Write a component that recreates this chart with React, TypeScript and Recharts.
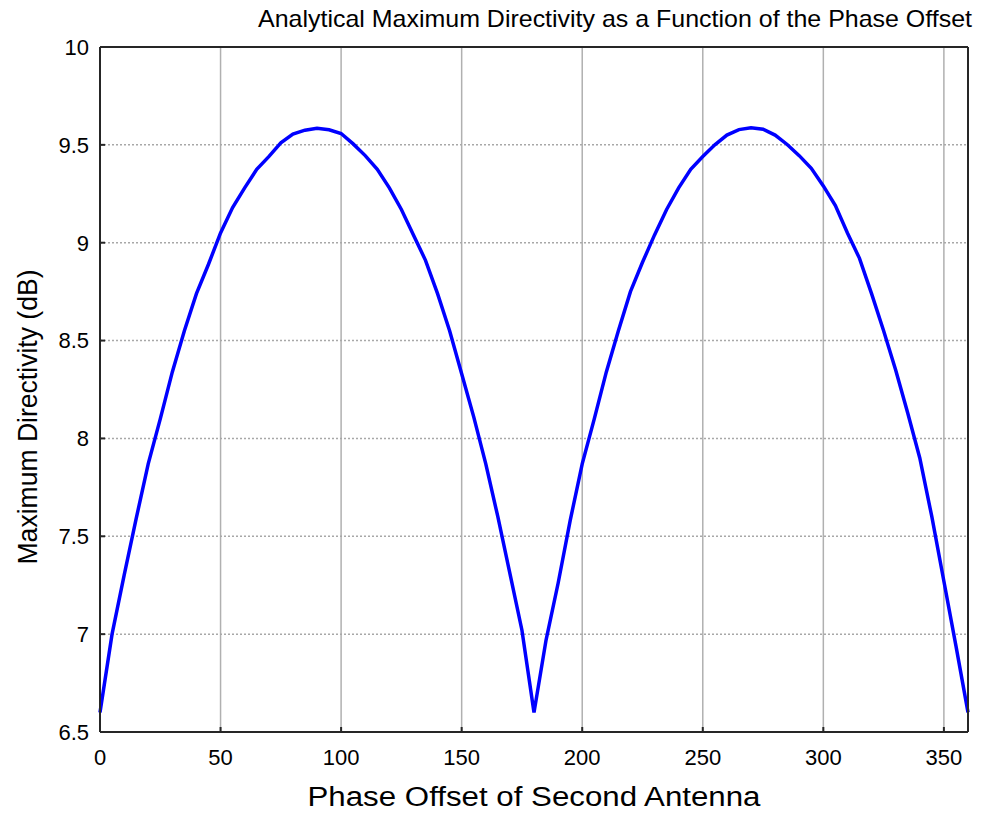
import { LineChart, Line, XAxis, YAxis, CartesianGrid } from 'recharts';

// phase offset of the second antenna (degrees)
const phase = [
  0, 5, 10, 15, 20, 25, 30, 35, 40, 45, 50, 55, 60, 65, 70, 75, 80, 85, 90,
  95, 100, 105, 110, 115, 120, 125, 130, 135, 140, 145, 150, 155, 160, 165, 170, 175, 180,
  185, 190, 195, 200, 205, 210, 215, 220, 225, 230, 235, 240, 245, 250, 255, 260, 265, 270,
  275, 280, 285, 290, 295, 300, 305, 310, 315, 320, 325, 330, 335, 340, 345, 350, 355, 360,
];

// maximum directivity (dB)
const directivity = [
  6.6, 7.0, 7.3, 7.59, 7.87, 8.1, 8.34, 8.55, 8.74, 8.89, 9.05, 9.18, 9.28, 9.375, 9.44, 9.51, 9.555, 9.575, 9.585,
  9.577, 9.558, 9.505, 9.445, 9.375, 9.28, 9.17, 9.04, 8.91, 8.74, 8.55, 8.33, 8.11, 7.87, 7.6, 7.31, 7.02, 6.6,
  6.97, 7.26, 7.58, 7.87, 8.1, 8.34, 8.55, 8.75, 8.9, 9.04, 9.17, 9.28, 9.375, 9.44, 9.5, 9.55, 9.578, 9.587,
  9.58, 9.55, 9.502, 9.445, 9.38, 9.29, 9.19, 9.05, 8.92, 8.74, 8.55, 8.35, 8.13, 7.9, 7.6, 7.27, 6.94, 6.6,
];

const xTicks = [0, 50, 100, 150, 200, 250, 300, 350];
const yTicks = [6.5, 7, 7.5, 8, 8.5, 9, 9.5, 10];

const title = 'Analytical Maximum Directivity as a Function of the Phase Offset';
const xTitle = 'Phase Offset of Second Antenna';
const yTitle = 'Maximum Directivity (dB)';

const data = phase.map((p, i) => ({ phase: p, d: directivity[i] }));

const font = '"Liberation Sans", Arial, sans-serif';
const axisColor = '#262626';

export default function App() {
  return (
    <div style={{ position: 'absolute', left: 0, top: 0, width: 981, height: 814, background: '#fff' }}>
      <LineChart width={981} height={814} data={data} margin={{ top: 46, right: 12, bottom: 22, left: 0 }}>
        {/* vertical grid solid, horizontal dotted like matlab */}
        <CartesianGrid horizontal={false} stroke="#b0b0b0" strokeWidth={1.5} />
        <CartesianGrid vertical={false} stroke="#a8a8a8" strokeWidth={1.5} strokeDasharray="2 2" />
        <XAxis
          dataKey="phase"
          type="number"
          domain={[0, 360]}
          ticks={xTicks}
          interval={0}
          height={60}
          tickSize={-5}
          tickMargin={22}
          stroke={axisColor}
          strokeWidth={2}
          tick={{ fill: '#000', fontSize: 22, fontFamily: font }}
          label={{
            content: () => (
              <text x={534} y={806} textAnchor="middle" fontSize={27} fontFamily={font} fill="#000"
                textLength={453} lengthAdjust="spacingAndGlyphs">{xTitle}</text>
            ),
          }}
        />
        <XAxis
          xAxisId="top"
          orientation="top"
          type="number"
          dataKey="phase"
          domain={[0, 360]}
          ticks={xTicks}
          height={1}
          tick={false}
          tickSize={-5}
          stroke={axisColor}
          strokeWidth={2}
          label={{
            content: () => (
              <text x={615} y={27} textAnchor="middle" fontSize={24} fontFamily={font} fill="#000"
                textLength={714} lengthAdjust="spacingAndGlyphs">{title}</text>
            ),
          }}
        />
        <YAxis
          type="number"
          domain={[6.5, 10]}
          ticks={yTicks}
          interval={0}
          width={100}
          tickSize={-5}
          tickMargin={16}
          stroke={axisColor}
          strokeWidth={2}
          tick={{ fill: '#000', fontSize: 22, fontFamily: font }}
          label={{
            content: () => (
              <text transform="translate(37,417) rotate(-90)" textAnchor="middle" fontSize={28} fontFamily={font}
                fill="#000" textLength={295} lengthAdjust="spacingAndGlyphs">{yTitle}</text>
            ),
          }}
        />
        <YAxis
          yAxisId="right"
          orientation="right"
          type="number"
          domain={[6.5, 10]}
          ticks={yTicks}
          width={1}
          tick={false}
          tickSize={-5}
          stroke={axisColor}
          strokeWidth={2}
        />
        <Line type="linear" dataKey="d" stroke="#0000ff" strokeWidth={3.5} dot={false} isAnimationActive={false} />
      </LineChart>
    </div>
  );
}
